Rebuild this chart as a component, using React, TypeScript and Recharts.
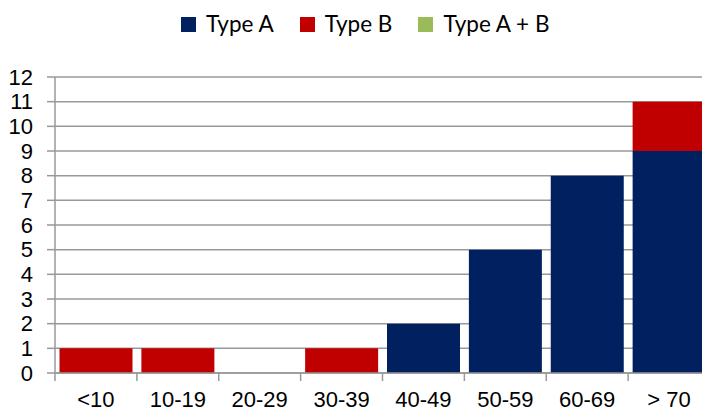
import React from 'react';
import { BarChart, Bar, XAxis, YAxis, CartesianGrid, Legend } from 'recharts';

const categories = ['<10', '10-19', '20-29', '30-39', '40-49', '50-59', '60-69', '> 70'];
const typeA = [0, 0, 0, 0, 2, 5, 8, 9];
const typeB = [1, 1, 0, 1, 0, 0, 0, 2];
const typeAB = [0, 0, 0, 0, 0, 0, 0, 0];
const seriesNames = ['Type A', 'Type B', 'Type A + B'];
const yTicks = [0, 1, 2, 3, 4, 5, 6, 7, 8, 9, 10, 11, 12];

const data = categories.map((c, i) => ({ cat: c, a: typeA[i], b: typeB[i], ab: typeAB[i] }));

const GRID = '#999999';
const X_TICK_MARGIN = 18;
const AXIS_FONT = "'Liberation Sans', Arial, sans-serif";

const XTick = (props: any) => {
  const { x, y, payload, width, visibleTicksCount, index } = props;
  const band = width / visibleTicksCount;
  const top = y - X_TICK_MARGIN;
  return (
    <g>
      <line x1={x - band / 2} x2={x - band / 2} y1={top} y2={top + 8} stroke={GRID} strokeWidth={1.5} />
      {index === visibleTicksCount - 1 && (
        <line x1={x + band / 2} x2={x + band / 2} y1={top} y2={top + 8} stroke={GRID} strokeWidth={1.5} />
      )}
      <text x={x} y={y} dy="0.71em" textAnchor="middle" fill="#000" fontSize={22} fontFamily={AXIS_FONT}>
        {payload.value}
      </text>
    </g>
  );
};

const renderLegend = (props: any) => {
  const { payload } = props;
  const ordered = seriesNames
    .map((n) => (payload || []).find((p: any) => p.value === n))
    .filter(Boolean);
  return (
    <div style={{ display: 'flex', gap: 26, alignItems: 'center', fontFamily: 'Lato, sans-serif', fontSize: 22.5, lineHeight: '26px', color: '#000' }}>
      {ordered.map((e: any) => (
        <div key={e.value} style={{ display: 'flex', alignItems: 'center' }}>
          <span style={{ display: 'inline-block', width: 15, height: 15, background: e.color, marginRight: 10, marginTop: 1 }} />
          <span>{e.value}</span>
        </div>
      ))}
    </div>
  );
};

export default function App() {
  return (
    <div style={{ marginLeft: -8, marginTop: -8, width: 710, height: 412, background: '#fff' }}>
      <BarChart width={710} height={412} data={data} margin={{ top: 77, right: 0, left: 0, bottom: 0 }} barCategoryGap="5.5%">
        <CartesianGrid vertical={false} stroke={GRID} strokeWidth={1.5} />
        <XAxis
          dataKey="cat"
          height={39}
          interval={0}
          tickLine={false}
          tickSize={0}
          tickMargin={X_TICK_MARGIN}
          axisLine={{ stroke: GRID, strokeWidth: 1.5 }}
          tick={<XTick />}
        />
        <YAxis
          width={55}
          domain={[0, 12]}
          ticks={yTicks}
          interval={0}
          tickSize={8}
          tickMargin={14}
          axisLine={{ stroke: GRID, strokeWidth: 1.5 }}
          tickLine={{ stroke: GRID, strokeWidth: 1.5 }}
          tick={{ fill: '#000', fontSize: 22, fontFamily: AXIS_FONT }}
        />
        <Legend
          verticalAlign="middle"
          align="center"
          content={renderLegend}
          wrapperStyle={{ top: 11, left: 181, width: 'auto' }}
        />
        <Bar dataKey="a" name="Type A" stackId="s" fill="#002060" isAnimationActive={false} />
        <Bar dataKey="b" name="Type B" stackId="s" fill="#C00000" isAnimationActive={false} />
        <Bar dataKey="ab" name="Type A + B" stackId="s" fill="#9BBB59" isAnimationActive={false} />
      </BarChart>
    </div>
  );
}
